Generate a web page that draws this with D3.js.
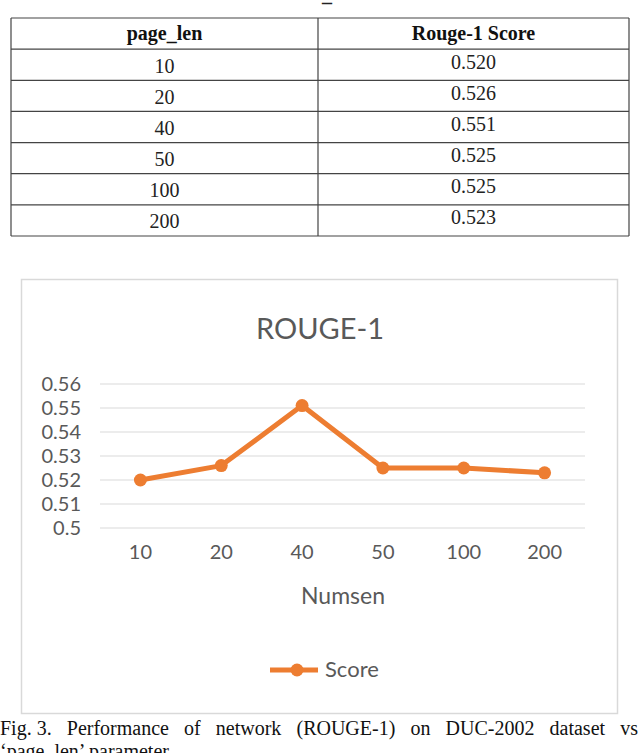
<!DOCTYPE html>
<html>
<head>
<meta charset="utf-8">
<script src="https://cdn.jsdelivr.net/npm/d3@7"></script>
<style>
  body { margin: 0; background: #fff; }
  svg { display: block; }
</style>
</head>
<body>
<svg id="chart" width="640" height="753"></svg>
<script>
// data
var pageLen = ['10', '20', '40', '50', '100', '200'];
var scores = [0.520, 0.526, 0.551, 0.525, 0.525, 0.523];
var yTicks = [0.5, 0.51, 0.52, 0.53, 0.54, 0.55, 0.56];
var tableHeader = ['page_len', 'Rouge-1 Score'];
var captionWords = ['Fig. 3.', 'Performance', 'of', 'network', '(ROUGE-1)', 'on', 'DUC-2002', 'dataset', 'vs'];

var svg = d3.select('#chart');

// cut-off caption above the table
svg.append('text')
   .attr('x', 322).attr('y', 1)
   .style('font-family', 'Liberation Serif').style('font-size', '20px')
   .style('font-weight', 'bold').style('fill', '#222')
   .text('_');

// ---- table ----
var tLeft = 11, tRight = 629, tDiv = 318;
var rowY = d3.scaleBand()
             .domain(d3.range(pageLen.length + 1))
             .range([18, 236]);

var table = svg.append('g');
table.selectAll('line.h')
     .data(d3.range(pageLen.length + 2))
     .enter().append('line')
     .attr('x1', tLeft).attr('x2', tRight)
     .attr('y1', function(d){ return d <= pageLen.length ? rowY(d) : rowY.range()[1]; })
     .attr('y2', function(d){ return d <= pageLen.length ? rowY(d) : rowY.range()[1]; })
     .style('stroke', '#444').style('stroke-width', 1.2);
[tLeft, tDiv, tRight].forEach(function(x) {
  table.append('line')
       .attr('x1', x).attr('x2', x).attr('y1', 18).attr('y2', 236)
       .style('stroke', '#444').style('stroke-width', 1.2);
});
var colX = [(tLeft + tDiv) / 2, (tDiv + tRight) / 2];
tableHeader.forEach(function(h, i) {
  table.append('text')
       .attr('x', colX[i]).attr('y', rowY(0) + rowY.bandwidth() / 2 + 6)
       .attr('text-anchor', 'middle')
       .style('font-family', 'Liberation Serif').style('font-size', '20px')
       .style('font-weight', 'bold').style('fill', '#111')
       .text(h);
});
pageLen.forEach(function(p, i) {
  table.append('text')
       .attr('x', colX[0]).attr('y', rowY(i + 1) + rowY.bandwidth() / 2 + 8)
       .attr('text-anchor', 'middle')
       .style('font-family', 'Liberation Serif').style('font-size', '20px')
       .style('fill', '#222')
       .text(p);
  table.append('text')
       .attr('x', colX[1]).attr('y', rowY(i + 1) + rowY.bandwidth() / 2 + 4)
       .attr('text-anchor', 'middle')
       .style('font-family', 'Liberation Serif').style('font-size', '20px')
       .style('fill', '#222')
       .text(d3.format('.3f')(scores[i]));
});

// ---- chart ----
svg.append('rect')
   .attr('x', 21.5).attr('y', 279.5).attr('width', 596).attr('height', 434)
   .style('fill', '#fff').style('stroke', '#d9d9d9').style('stroke-width', 1.5);

var font = 'Lato, "Open Sans", sans-serif';
var orange = '#ED7D31';

svg.append('text')
   .attr('x', 320).attr('y', 339)
   .attr('text-anchor', 'middle')
   .style('font-family', font).style('font-size', '29px').style('fill', '#595959')
   .text('ROUGE-1');

var x = d3.scaleBand().domain(pageLen).range([100, 585]);
var y = d3.scaleLinear().domain([0.5, 0.56]).range([528, 384]);

var grid = svg.append('g');
grid.selectAll('line')
    .data(yTicks)
    .enter().append('line')
    .attr('x1', 100).attr('x2', 585)
    .attr('y1', function(d){ return y(d); })
    .attr('y2', function(d){ return y(d); })
    .style('stroke', '#d9d9d9').style('stroke-width', 1);

var yAxis = svg.append('g')
   .attr('transform', 'translate(81,0)')
   .call(d3.axisLeft(y).tickValues(yTicks).tickSize(0).tickPadding(0)
           .tickFormat(function(d){ return d3.format('')(+d.toFixed(2)); }));
yAxis.select('.domain').remove();
yAxis.selectAll('text')
     .style('font-family', font).style('font-size', '20px').style('fill', '#595959');

var xAxis = svg.append('g')
   .attr('transform', 'translate(0,545)')
   .call(d3.axisBottom(x).tickSize(0).tickPadding(0));
xAxis.select('.domain').remove();
xAxis.selectAll('text')
     .style('font-family', font).style('font-size', '20px').style('fill', '#595959');

svg.append('text')
   .attr('x', 343).attr('y', 604)
   .attr('text-anchor', 'middle')
   .style('font-family', font).style('font-size', '23px').style('fill', '#595959')
   .text('Numsen');

var line = d3.line()
   .x(function(d, i){ return x(pageLen[i]) + x.bandwidth() / 2; })
   .y(function(d){ return y(d); });

svg.append('path')
   .datum(scores)
   .attr('d', line)
   .style('fill', 'none').style('stroke', orange)
   .style('stroke-width', 5).style('stroke-linejoin', 'round');

svg.selectAll('circle.pt')
   .data(scores)
   .enter().append('circle')
   .attr('class', 'pt')
   .attr('cx', function(d, i){ return x(pageLen[i]) + x.bandwidth() / 2; })
   .attr('cy', function(d){ return y(d); })
   .attr('r', 6.5)
   .style('fill', orange);

// legend
var legend = svg.append('g').attr('transform', 'translate(270,670)');
legend.append('line')
      .attr('x1', 0).attr('x2', 48).attr('y1', 0).attr('y2', 0)
      .style('stroke', orange).style('stroke-width', 5);
legend.append('circle').attr('cx', 27).attr('cy', 0).attr('r', 6.5).style('fill', orange);
legend.append('text')
      .attr('x', 55).attr('y', 7)
      .style('font-family', font).style('font-size', '22px').style('fill', '#595959')
      .text('Score');

// caption, justified word by word
var cap = svg.append('g')
   .style('font-family', 'Liberation Serif').style('font-size', '20px').style('fill', '#111');
var words = cap.selectAll('text')
   .data(captionWords)
   .enter().append('text')
   .attr('y', 735)
   .text(function(d){ return d; });
var widths = [];
words.each(function(){ widths.push(this.getComputedTextLength()); });
var gap = (638 - d3.sum(widths)) / (captionWords.length - 1);
var cx = 0;
words.attr('x', function(d, i){ var p = cx; cx += widths[i] + gap; return p; });

svg.append('text')
   .attr('x', 0).attr('y', 758)
   .style('font-family', 'Liberation Serif').style('font-size', '20px').style('fill', '#111')
   .text('\u2018page_len\u2019 parameter');
</script>
</body>
</html>
